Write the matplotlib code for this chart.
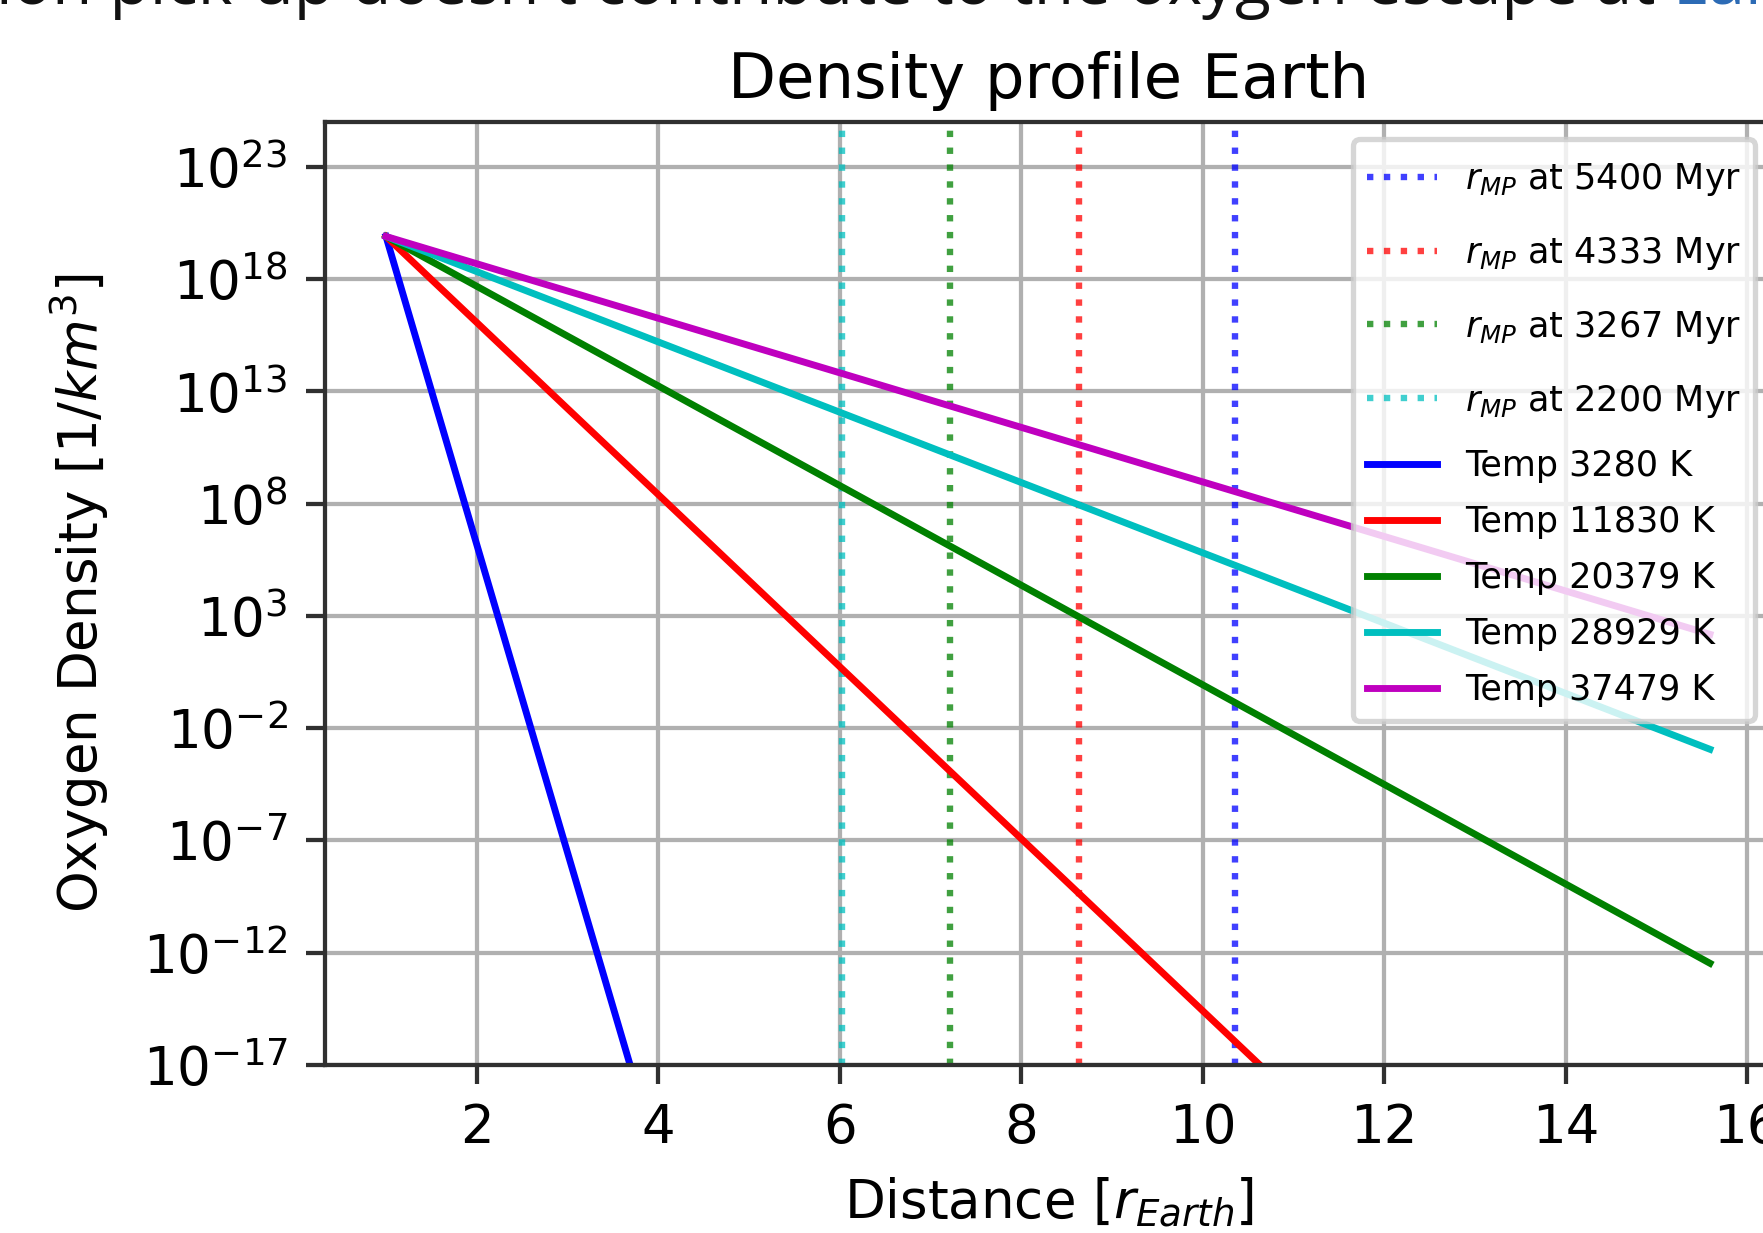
import matplotlib
matplotlib.use("Agg")
import matplotlib.pyplot as plt
from matplotlib.ticker import NullLocator
import numpy as np

# values
temps = [3280, 11830, 20379, 28929, 37479]          # K
temp_colors = ['b', 'r', 'g', 'c', 'm']
x_start = 1.0                                        # r_Earth
logn_start = 19.9                                    # log10 density at x_start
x_end = [3.69, 10.63, 15.59, 15.59, 15.59]
logn_end = [-17.0, -17.0, -12.47, -2.94, 2.18]

mp_times = [5400, 4333, 3267, 2200]                  # Myr
mp_radius = [10.36, 8.64, 7.215, 6.02]               # r_Earth
mp_colors = ['b', 'r', 'g', 'c']

xticks = [2, 4, 6, 8, 10, 12, 14, 16]
ytick_exp = [-17, -12, -7, -2, 3, 8, 13, 18, 23]

DPI = 382
fig = plt.figure(figsize=(1763 / DPI, 1233 / DPI), dpi=DPI)
ax = fig.add_axes([0.1842, 0.1363, 0.8212, 0.7648])

for t, r, c in zip(mp_times, mp_radius, mp_colors):
    ax.axvline(r, color=c, linestyle=':', lw=1.2, alpha=0.75, label=r'$r_{MP}$ at %d Myr' % t)

for T, xe, ye, c in zip(temps, x_end, logn_end, temp_colors):
    ax.plot([x_start, xe], [10 ** logn_start, 10 ** ye], color=c, lw=1.3, label='Temp %d K' % T)

ax.set_yscale('log')
ax.set_xlim(0.325, 16.28)
ax.set_ylim(1e-17, 1e25)
ax.set_xticks(xticks)
ax.set_yticks([10.0 ** e for e in ytick_exp])
ax.yaxis.set_minor_locator(NullLocator())
ax.grid(True)
for s in ax.spines.values():
    s.set_color('#303030')
ax.tick_params(color='#303030')

ax.set_title('Density profile Earth', fontsize=11.75, pad=4.5)
ax.set_xlabel(r'Distance [$r_{Earth}$]')
ax.set_ylabel(r'Oxygen Density [$1/km^3$]', labelpad=6)
leg = ax.legend(loc='upper right', fontsize=6.6, labelspacing=0.63)

# clipped page text above the figure
t = fig.text(-0.002, 1 - 4 / 1233, "ion pick-up doesn't contribute to the oxygen escape at ",
             family='Open Sans', fontsize=12.4, va='baseline', ha='left', color='#111111')
fig.canvas.draw()
bb = t.get_window_extent()
fig.text(bb.x1 / fig.bbox.width, 1 - 4 / 1233, 'Earth', family='Open Sans', fontsize=12.4,
         va='baseline', ha='left', color='#2c6bb5')

# the r_MP rows are taller than the Temp rows in the reference
renderer = fig.canvas.get_renderer()
p2 = renderer.points_to_pixels(1.)
rows = [r for col in leg._legend_handle_box.get_children() for r in col.get_children()]
for row in rows[:4]:
    da, ta = row.get_children()
    tb = ta.get_bbox(renderer)
    top = max(tb.y1 / p2, da.height - da.ydescent)
    bot = max(-tb.y0 / p2, da.ydescent)
    extra = 1.4
    da.ydescent = bot + extra
    da.height = top + bot + 2 * extra

fig.savefig('out.png', dpi=DPI)
